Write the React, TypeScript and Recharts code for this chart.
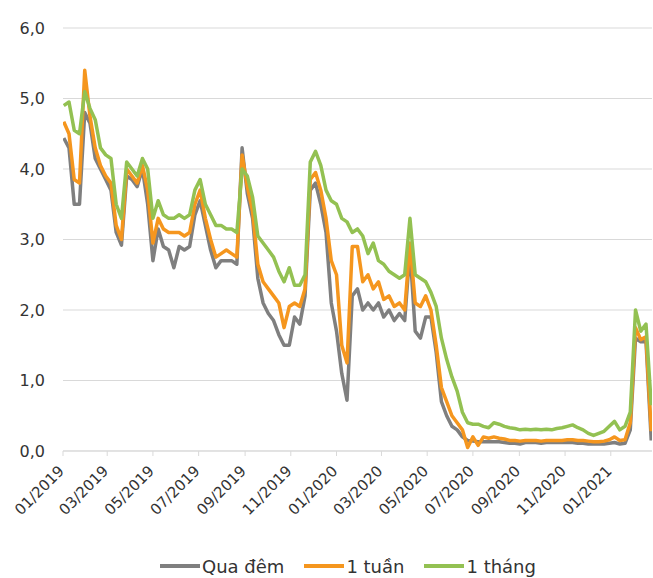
import React from "react";
import { LineChart, Line, XAxis, YAxis, CartesianGrid, Legend } from "recharts";

const DATES = [
  "2019-01-02", "2019-01-09", "2019-01-16", "2019-01-23", "2019-01-30", "2019-02-06", "2019-02-13", "2019-02-20",
  "2019-02-27", "2019-03-06", "2019-03-13", "2019-03-20", "2019-03-27", "2019-04-03", "2019-04-10", "2019-04-17",
  "2019-04-24", "2019-05-01", "2019-05-08", "2019-05-15", "2019-05-22", "2019-05-29", "2019-06-05", "2019-06-12",
  "2019-06-19", "2019-06-26", "2019-07-03", "2019-07-10", "2019-07-17", "2019-07-24", "2019-07-31", "2019-08-07",
  "2019-08-14", "2019-08-21", "2019-08-28", "2019-09-04", "2019-09-11", "2019-09-18", "2019-09-25", "2019-10-02",
  "2019-10-09", "2019-10-16", "2019-10-23", "2019-10-30", "2019-11-06", "2019-11-13", "2019-11-20", "2019-11-27",
  "2019-12-04", "2019-12-11", "2019-12-18", "2019-12-25", "2020-01-01", "2020-01-08", "2020-01-15", "2020-01-22",
  "2020-01-29", "2020-02-05", "2020-02-12", "2020-02-19", "2020-02-26", "2020-03-04", "2020-03-11", "2020-03-18",
  "2020-03-25", "2020-04-01", "2020-04-08", "2020-04-15", "2020-04-22", "2020-04-29", "2020-05-06", "2020-05-13",
  "2020-05-20", "2020-05-27", "2020-06-03", "2020-06-10", "2020-06-17", "2020-06-24", "2020-07-01", "2020-07-08",
  "2020-07-15", "2020-07-22", "2020-07-29", "2020-08-05", "2020-08-12", "2020-08-19", "2020-08-26", "2020-09-02",
  "2020-09-09", "2020-09-16", "2020-09-23", "2020-09-30", "2020-10-07", "2020-10-14", "2020-10-21", "2020-10-28",
  "2020-11-04", "2020-11-11", "2020-11-18", "2020-11-25", "2020-12-02", "2020-12-09", "2020-12-16", "2020-12-23",
  "2020-12-30", "2021-01-06", "2021-01-13", "2021-01-20", "2021-01-27", "2021-02-03", "2021-02-10", "2021-02-17",
  "2021-02-24",
];

const QUA_DEM = [
  4.44, 4.30, 3.50, 3.50, 4.80, 4.65, 4.15, 4.00, 3.85, 3.70, 3.10, 2.92, 3.90, 3.85, 3.75, 4.00,
  3.50, 2.70, 3.15, 2.90, 2.85, 2.60, 2.90, 2.85, 2.90, 3.35, 3.55, 3.20, 2.85, 2.60, 2.70, 2.70,
  2.70, 2.65, 4.30, 3.65, 3.30, 2.45, 2.10, 1.95, 1.85, 1.65, 1.50, 1.50, 1.90, 1.80, 2.20, 3.70,
  3.80, 3.50, 3.10, 2.10, 1.70, 1.10, 0.72, 2.20, 2.30, 2.00, 2.10, 2.00, 2.10, 1.90, 2.00, 1.85,
  1.95, 1.85, 2.85, 1.70, 1.60, 1.90, 1.90, 1.40, 0.70, 0.50, 0.35, 0.30, 0.20, 0.15, 0.14, 0.13,
  0.13, 0.13, 0.13, 0.13, 0.12, 0.11, 0.11, 0.10, 0.12, 0.12, 0.12, 0.11, 0.12, 0.12, 0.12, 0.12,
  0.12, 0.12, 0.11, 0.11, 0.10, 0.10, 0.10, 0.10, 0.11, 0.12, 0.10, 0.11, 0.30, 1.60, 1.55, 1.55,
  0.15,
];

const MOT_TUAN = [
  4.67, 4.50, 3.85, 3.80, 5.40, 4.75, 4.30, 4.05, 3.90, 3.80, 3.20, 3.00, 4.00, 3.90, 3.80, 4.05,
  3.70, 2.95, 3.30, 3.15, 3.10, 3.10, 3.10, 3.05, 3.10, 3.50, 3.70, 3.30, 3.00, 2.75, 2.80, 2.85,
  2.80, 2.75, 4.20, 3.75, 3.40, 2.65, 2.40, 2.30, 2.20, 2.10, 1.75, 2.05, 2.10, 2.05, 2.30, 3.85,
  3.95, 3.70, 3.30, 2.70, 2.50, 1.50, 1.25, 2.90, 2.90, 2.40, 2.50, 2.30, 2.40, 2.15, 2.20, 2.05,
  2.10, 2.00, 2.95, 2.10, 2.05, 2.20, 2.00, 1.50, 0.90, 0.70, 0.50, 0.40, 0.30, 0.05, 0.20, 0.08,
  0.20, 0.18, 0.20, 0.18, 0.17, 0.15, 0.15, 0.14, 0.15, 0.15, 0.15, 0.14, 0.15, 0.15, 0.15, 0.15,
  0.16, 0.16, 0.15, 0.15, 0.14, 0.13, 0.13, 0.14, 0.16, 0.20, 0.15, 0.16, 0.40, 1.75, 1.58, 1.62,
  0.28,
];

const MOT_THANG = [
  4.90, 4.95, 4.55, 4.50, 5.10, 4.86, 4.70, 4.30, 4.20, 4.15, 3.50, 3.30, 4.10, 4.00, 3.90, 4.15,
  4.00, 3.30, 3.55, 3.35, 3.30, 3.30, 3.35, 3.30, 3.35, 3.70, 3.85, 3.50, 3.35, 3.20, 3.20, 3.15,
  3.15, 3.10, 4.00, 3.90, 3.60, 3.05, 2.95, 2.85, 2.75, 2.55, 2.40, 2.60, 2.35, 2.35, 2.50, 4.10,
  4.25, 4.05, 3.70, 3.55, 3.50, 3.30, 3.25, 3.10, 3.15, 3.05, 2.80, 2.95, 2.70, 2.65, 2.55, 2.50,
  2.45, 2.50, 3.30, 2.50, 2.45, 2.40, 2.25, 2.05, 1.60, 1.30, 1.05, 0.85, 0.55, 0.40, 0.38, 0.38,
  0.35, 0.33, 0.40, 0.38, 0.35, 0.33, 0.32, 0.30, 0.31, 0.30, 0.31, 0.30, 0.31, 0.30, 0.32, 0.33,
  0.35, 0.37, 0.33, 0.30, 0.25, 0.22, 0.25, 0.28, 0.35, 0.42, 0.30, 0.35, 0.55, 2.00, 1.70, 1.80,
  0.65,
];

const TICK_LABELS = [
  "01/2019", "03/2019", "05/2019", "07/2019", "09/2019", "11/2019", "01/2020",
  "03/2020", "05/2020", "07/2020", "09/2020", "11/2020", "01/2021",
];

const Y_TICKS = [0, 1, 2, 3, 4, 5, 6];

const SERIES = [
  { key: "quaDem", name: "Qua đêm", color: "#7F7F7F" },
  { key: "tuan", name: "1 tuần", color: "#F5961E" },
  { key: "thang", name: "1 tháng", color: "#93C152" },
];

const toTs = (d: string) => Date.parse(d + "T00:00:00Z");
const labelToTs = (l: string) => Date.UTC(Number(l.slice(3)), Number(l.slice(0, 2)) - 1, 1);

const data = DATES.map((d, i) => ({
  t: toTs(d),
  quaDem: QUA_DEM[i],
  tuan: MOT_TUAN[i],
  thang: MOT_THANG[i],
}));

const xTicks = TICK_LABELS.map(labelToTs);
const FONT = "'DejaVu Sans', sans-serif";
const TEXT = "#333333";
const AXIS = "#D9D9D9";

const fmtMonth = (ts: number) => {
  const d = new Date(ts);
  return String(d.getUTCMonth() + 1).padStart(2, "0") + "/" + d.getUTCFullYear();
};

function XTick(props: any) {
  const { x, y, payload } = props;
  return (
    <g transform={`translate(${x + 2},${y + 16})`}>
      <text transform="rotate(-45)" textAnchor="end" fill={TEXT} fontSize={15} fontFamily={FONT}>
        {fmtMonth(payload.value)}
      </text>
    </g>
  );
}

function YTick(props: any) {
  const { x, y, payload } = props;
  return (
    <text x={x} y={y} dy="0.36em" textAnchor="end" fill={TEXT} fontSize={16} fontFamily={FONT}>
      {payload.value.toFixed(1).replace(".", ",")}
    </text>
  );
}

function LegendBox() {
  return (
    <div style={{ display: "flex", alignItems: "center", height: 24, paddingLeft: 160, gap: 20 }}>
      {SERIES.map((s) => (
        <div key={s.key} style={{ display: "flex", alignItems: "center" }}>
          <span style={{ display: "inline-block", width: 40, height: 4, background: s.color, marginRight: 2 }} />
          <span style={{ fontFamily: FONT, fontSize: 18, color: TEXT }}>{s.name}</span>
        </div>
      ))}
    </div>
  );
}

export default function App() {
  return (
    <div style={{ position: "absolute", left: 0, top: 0, background: "#fff" }}>
      <LineChart width={653} height={578} data={data} margin={{ top: 28, right: 1, bottom: 0, left: 0 }}>
        <CartesianGrid vertical={false} stroke={AXIS} strokeWidth={1} />
        <XAxis
          dataKey="t"
          type="number"
          scale="time"
          domain={[Date.UTC(2019, 0, 1), Date.UTC(2021, 1, 25)]}
          ticks={xTicks}
          interval={0}
          tick={<XTick />}
          tickSize={5}
          tickMargin={0}
          height={103}
          stroke={AXIS}
          allowDataOverflow
        />
        <YAxis
          domain={[0, 6]}
          ticks={Y_TICKS}
          width={63}
          axisLine={false}
          tickLine={false}
          tickSize={0}
          tickMargin={18}
          tick={<YTick />}
        />
        {SERIES.map((s) => (
          <Line
            key={s.key}
            dataKey={s.key}
            name={s.name}
            type="linear"
            stroke={s.color}
            strokeWidth={3.5}
            strokeLinejoin="round"
            dot={false}
            isAnimationActive={false}
          />
        ))}
        <Legend verticalAlign="bottom" content={<LegendBox />} wrapperStyle={{ left: 0, width: 653 }} />
      </LineChart>
    </div>
  );
}
